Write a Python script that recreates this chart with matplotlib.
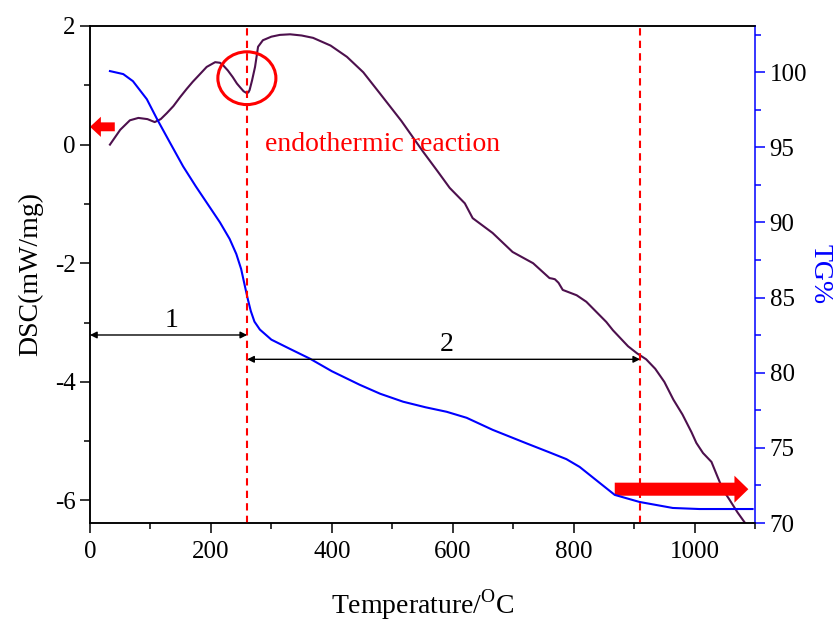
import numpy as np
import matplotlib
matplotlib.use("Agg")
import matplotlib.pyplot as plt
from matplotlib.patches import Ellipse, FancyArrow
from matplotlib.ticker import MultipleLocator

plt.rcParams['font.family'] = ['Liberation Serif', 'DejaVu Serif']
plt.rcParams['mathtext.fontset'] = 'custom'
plt.rcParams['mathtext.rm'] = 'Liberation Serif'
plt.rcParams['axes.unicode_minus'] = False

# DSC curve (mW/mg) vs temperature (C)
dsc_t = [33, 50, 66, 80, 95, 107, 117, 127, 138, 149, 160, 170, 182, 193, 207, 215,
         220, 228, 236, 243, 248, 254, 259, 262, 264, 268, 273, 278, 286, 300, 314,
         331, 350, 369, 398, 425, 452, 479, 515, 551, 575, 595, 620, 633, 666, 699,
         733, 760, 765, 769, 775, 782, 805, 821, 854, 865, 890, 905, 911, 920, 935,
         950, 965, 980, 995, 1003, 1014, 1028, 1038, 1047, 1058, 1071, 1085]
dsc = [0.0, 0.25, 0.41, 0.45, 0.43, 0.38, 0.43, 0.53, 0.65, 0.80, 0.94, 1.06, 1.19,
       1.31, 1.39, 1.38, 1.34, 1.25, 1.14, 1.03, 0.97, 0.90, 0.87, 0.88, 0.92, 1.08,
       1.31, 1.65, 1.76, 1.82, 1.85, 1.86, 1.84, 1.80, 1.67, 1.48, 1.22, 0.87, 0.40,
       -0.12, -0.45, -0.73, -0.99, -1.24, -1.49, -1.81, -2.00, -2.25, -2.26, -2.27,
       -2.33, -2.45, -2.54, -2.65, -2.99, -3.13, -3.40, -3.52, -3.56, -3.62, -3.78,
       -4.0, -4.3, -4.55, -4.85, -5.03, -5.2, -5.35, -5.6, -5.82, -5.99, -6.2, -6.4]

# TG curve (%) vs temperature (C)
tg_t = [33, 55, 71, 94, 111, 132, 154, 175, 195, 215, 231, 242, 250, 256, 261, 266,
        272, 281, 300, 330, 364, 400, 446, 480, 518, 555, 590, 623, 666, 722, 760,
        788, 810, 843, 868, 909, 964, 1008, 1096]
tg = [100.07, 99.87, 99.4, 98.2, 96.87, 95.33, 93.73, 92.4, 91.2, 90.0, 88.9, 87.9,
      86.9, 85.8, 84.9, 84.1, 83.4, 82.87, 82.2, 81.6, 80.93, 80.1, 79.2, 78.6, 78.07,
      77.7, 77.4, 77.0, 76.2, 75.3, 74.7, 74.25, 73.73, 72.67, 71.87, 71.4, 71.0,
      70.93, 70.93]

stage_bounds = [0, 260, 910]
stage_labels = ['1', '2']
stage_arrow_y = [-3.21, -3.62]

fig = plt.figure(figsize=(8.36, 6.24), dpi=100)
ax1 = fig.add_axes([90/836, 101/624, 665/836, 497/624])
ax2 = ax1.twinx()

ax1.plot(dsc_t, dsc, color='#4d104d', lw=1.5)
ax2.plot(tg_t, tg, color='#0000ff', lw=1.5)

ax1.set_xlim(0, 1100)
ax1.set_ylim(-6.38, 2)
ax2.set_ylim(70, 103.07)

ax1.xaxis.set_major_locator(MultipleLocator(200))
ax1.xaxis.set_minor_locator(MultipleLocator(100))
ax1.yaxis.set_major_locator(MultipleLocator(2))
ax1.yaxis.set_minor_locator(MultipleLocator(1))
ax2.yaxis.set_major_locator(MultipleLocator(5))
ax2.yaxis.set_minor_locator(MultipleLocator(2.5))

for a in (ax1, ax2):
    for s in a.spines.values():
        s.set_linewidth(1.1)
ax1.spines['right'].set_visible(False)
ax2.spines['right'].set_color('#0000ff')

ax1.tick_params(axis='both', which='major', direction='out', length=7, width=1.1,
                labelsize=18, top=False)
ax1.tick_params(axis='x', which='major', pad=6)
ax1.tick_params(axis='both', which='minor', direction='out', length=4, width=1.1, top=False)
ax2.tick_params(axis='y', which='major', direction='out', length=7, width=1.1,
                color='#0000ff', labelsize=18)
ax2.tick_params(axis='y', which='minor', direction='out', length=4, width=1.1,
                color='#0000ff')
ax2.tick_params(axis='x', which='both', top=True, bottom=False, labeltop=False,
                labelbottom=False, direction='in', width=1.1)
ax2.tick_params(axis='x', which='major', length=6)
ax2.tick_params(axis='x', which='minor', length=3)

ax1.set_xlabel('Temperature/$^{\\mathrm{O}}$C', fontsize=20)
ax1.xaxis.set_label_coords(0.5, -0.13)
ax1.set_ylabel('DSC(mW/mg)', fontsize=20, va='center')
ax1.yaxis.set_label_coords(-0.09, 0.5)
ax2.set_ylabel('TG%', fontsize=20, color='#0000ff', rotation=270, va='center')
ax2.yaxis.set_label_coords(1.098, 0.5)

tr = ax1.transData
# stage boundaries
for xb in stage_bounds[1:]:
    ax2.plot([xb, xb], [-6.38, 2], transform=tr, color='red', lw=1.5,
             linestyle=(0, (3.5, 2.5)))

# stage arrows
for i, lab in enumerate(stage_labels):
    x0, x1 = stage_bounds[i], stage_bounds[i + 1]
    ax2.annotate('', xy=(x1, stage_arrow_y[i]), xytext=(x0, stage_arrow_y[i]),
                 xycoords=tr, textcoords=tr,
                 arrowprops=dict(arrowstyle='<|-|>', color='black', lw=1.0,
                                 mutation_scale=10, shrinkA=0, shrinkB=0))
    ax2.text((x0 + x1) / 2 + 5, stage_arrow_y[i] + 0.25, lab,
             transform=tr, fontsize=20, ha='center', va='center')

# endothermic dip marker
ax2.add_patch(Ellipse((259.5, 1.12), 96, 0.89, transform=tr, fill=False,
                      edgecolor='red', lw=2.2))
ax2.text(289, 0.0, 'endothermic reaction', transform=tr, color='red',
         fontsize=20, ha='left', va='center')

# axis-direction arrows
ax2.add_patch(FancyArrow(41, 0.30, -41, 0, width=0.15, head_width=0.34,
                         head_length=18, length_includes_head=True,
                         transform=tr, color='red', lw=0, clip_on=False))
ax2.add_patch(FancyArrow(868, -5.81, 221, 0, width=0.22, head_width=0.455,
                         head_length=23, length_includes_head=True,
                         transform=tr, color='red', lw=0, clip_on=False))

fig.savefig('out.png', dpi=100)
